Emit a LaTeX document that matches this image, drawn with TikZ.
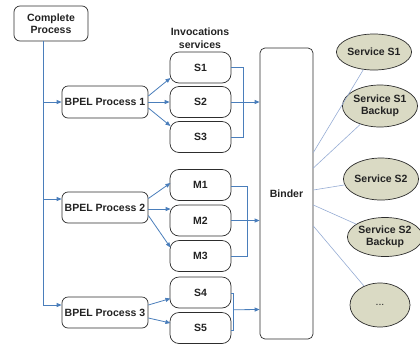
\documentclass[tikz,border=0pt]{standalone}
\usepackage{fontspec}
\setmainfont{Liberation Sans}
\usetikzlibrary{shapes.geometric,calc,arrows.meta}
\definecolor{linkblue}{RGB}{74,126,187}
\definecolor{thinblue}{RGB}{150,172,212}
\definecolor{svcfill}{RGB}{218,218,196}
\definecolor{edgegray}{RGB}{45,45,45}
\definecolor{ink}{RGB}{35,35,35}
\begin{document}
\begin{tikzpicture}[x=1pt,y=-1pt,
  font=\fontsize{10.5}{12.5}\selectfont\bfseries,
  text=ink,
  procbox/.style={draw=edgegray, line width=0.7pt, fill=white, rounded corners=6pt,
    inner sep=0pt, align=center},
  invbox/.style={procbox, rounded corners=9pt, minimum width=61pt, minimum height=31pt},
  svc/.style={ellipse, draw=edgegray, line width=0.7pt, fill=svcfill, inner sep=0pt,
    align=center},
  flow/.style={draw=linkblue, line width=0.8pt, -{Triangle[length=5pt,width=4pt]}},
  tie/.style={draw=linkblue, line width=0.6pt},
  bind/.style={draw=thinblue, line width=0.6pt}]
\useasboundingbox (0,0) rectangle (420,346);

% process boxes
\node[procbox, minimum width=74pt, minimum height=35pt] (cp) at (51,23.5) {Complete\\Process};
\node[procbox, minimum width=86pt, minimum height=32pt] (b1) at (105,102) {BPEL Process 1};
\node[procbox, minimum width=86pt, minimum height=31pt] (b2) at (105,207.5) {BPEL Process 2};
\node[procbox, minimum width=86pt, minimum height=31pt] (b3) at (105,312.5) {BPEL Process 3};

% invoked services
\node[align=center, inner sep=0pt] (inv) at (200,38) {Invocations\\services};
\node[invbox] (s1) at (200.5,67.5) {S1};
\node[invbox] (s2) at (200.5,102) {S2};
\node[invbox] (s3) at (200.5,137) {S3};
\node[invbox] (m1) at (200.5,185) {M1};
\node[invbox] (m2) at (200.5,220.5) {M2};
\node[invbox] (m3) at (200.5,256) {M3};
\node[invbox] (s4) at (200.5,292.5) {S4};
\node[invbox] (s5) at (200.5,328) {S5};

% binder
\node[procbox, rounded corners=5pt, minimum width=53pt, minimum height=291pt] (binder) at (286.5,193.5) {Binder};

% concrete services
\node[svc, minimum width=64pt, minimum height=36pt] (e1) at (374,52) {Service S1};
\node[svc, minimum width=64pt, minimum height=42pt] (e2) at (380,106) {Service S1\\Backup};
\node[svc, minimum width=62pt, minimum height=42pt] (e3) at (381,179) {Service S2};
\node[svc, minimum width=57pt, minimum height=39pt] (e4) at (385,237) {Service S2\\Backup};
\node[svc, minimum width=60pt, minimum height=44pt] (e5) at (380,305) {\mdseries ...};

% trunk from the complete process
\coordinate (tk) at (43,305);
\draw[tie, line width=0.8pt] (cp.south -| tk) -- (tk);
\draw[flow] (tk |- b1.west) -- (b1.west);
\draw[flow] (tk |- b2.west) ++(0,-8.5) -- ($(b2.west)+(0,-8.5)$);
\draw[flow] (tk) -- ($(b3.west)+(0,-7.5)$);

% processes to invoked services
\draw[flow] ($(b1.east)+(0,-6)$) -- ($(s1.west)+(0.8,10.5)$);
\draw[flow] (b1.east) -- (s2.west);
\draw[flow] ($(b1.east)+(0,6)$) -- ($(s3.west)+(0.8,-11)$);
\draw[flow] ($(b2.east)+(0,-9)$) -- ($(m1.west)+(0.8,-2)$);
\draw[flow] ($(b2.east)+(0,1.5)$) -- ($(m2.west)+(1,-11.5)$);
\draw[flow] ($(b2.east)+(0,8)$) -- ($(m3.west)+(0.8,-8.5)$);
\draw[flow] ($(b3.east)+(0,-7.5)$) -- ($(s4.west)+(0.8,6)$);
\draw[flow] ($(b3.east)+(0,5.5)$) -- ($(s5.west)+(0.8,-5)$);

% groups joined towards the binder
\draw[tie] (s1.east) -- ++(12,0) |- (s3.east);
\draw[flow] (s2.east) -- (binder.west |- s2.east);
\draw[tie] ($(m1.east)+(0,1)$) -- ++(16,0) |- (m3.east);
\draw[flow] (m2.east) -- (binder.west |- m2.east);
\draw[tie] ($(s4.east)+(0,0.5)$) -- ++(2,0) |- ($(s5.east)+(0,2)$);
\draw[flow] ($(s4.east)!0.5!(s5.east)+(2,-0.5)$) -- ($(binder.west)+(0,116)$);

% binder to concrete services
\draw[bind] ($(binder.east)+(0,-41)$) -- (e1);
\draw[bind] ($(binder.east)+(0,-25.5)$) -- (e2);
\draw[bind] ($(binder.east)+(0,-3.5)$) -- (e3);
\draw[bind] ($(binder.east)+(0,11.5)$) -- (e4);
\draw[bind] ($(binder.east)+(0,32.5)$) -- (e5);
\end{tikzpicture}
\end{document}
